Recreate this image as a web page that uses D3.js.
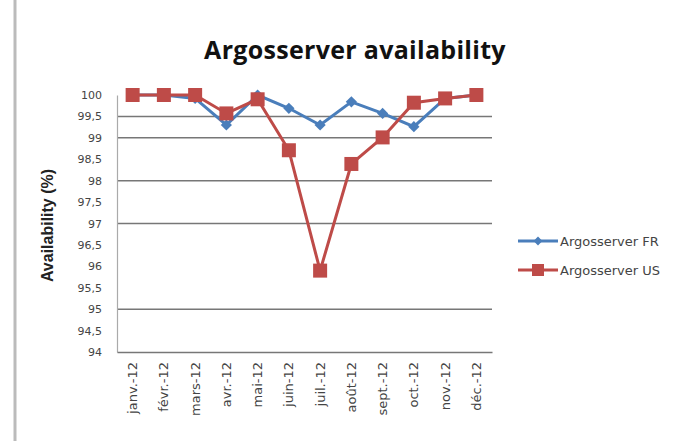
<!DOCTYPE html>
<html>
<head>
<meta charset="utf-8">
<script src="https://cdn.jsdelivr.net/npm/d3@7"></script>
<style>
  body { margin: 0; background: #fff; }
  svg { display: block; }
</style>
</head>
<body>
<div id="chart"></div>
<script>
// chart values
const months = ['janv.-12', 'févr.-12', 'mars-12', 'avr.-12', 'mai-12', 'juin-12',
  'juil.-12', 'août-12', 'sept.-12', 'oct.-12', 'nov.-12', 'déc.-12'];
const serverFR = [100, 100, 99.92, 99.3, 100, 99.69, 99.3, 99.84, 99.57, 99.26, 99.92, 100];
const serverUS = [100, 100, 100, 99.57, 99.9, 98.71, 95.9, 98.39, 99.01, 99.82, 99.92, 100];
const yTicks = [100, 99.5, 99, 98.5, 98, 97.5, 97, 96.5, 96, 95.5, 95, 94.5, 94];
const yTickLabels = ['100', '99,5', '99', '98,5', '98', '97,5', '97', '96,5', '96', '95,5', '95', '94,5', '94'];
const gridValues = [99.5, 99, 98, 97, 95];
const seriesNames = ['Argosserver FR', 'Argosserver US'];

const width = 687;
const height = 441;
const plot = { left: 117, right: 492, top: 95, bottom: 352 };
const blue = '#4a7ebb';
const red = '#be4b48';

const x = d3.scaleBand().domain(months).range([plot.left, plot.right]);
const y = d3.scaleLinear().domain([94, 100]).range([plot.bottom, plot.top]);
const cx = (m) => x(m) + x.bandwidth() / 2;

const svg = d3.select('#chart').append('svg')
  .attr('width', width)
  .attr('height', height)
  .attr('font-family', '"Liberation Sans", sans-serif');

// page edge line on the left
svg.append('line')
  .attr('x1', 15).attr('x2', 15).attr('y1', 0).attr('y2', height)
  .attr('stroke', '#bbb').attr('stroke-width', 3);

// title
svg.append('text')
  .attr('x', 355).attr('y', 59)
  .attr('text-anchor', 'middle')
  .attr('font-family', '"Open Sans", sans-serif')
  .attr('font-weight', 'bold')
  .attr('font-size', 25)
  .attr('letter-spacing', 0.3)
  .attr('fill', '#111')
  .text('Argosserver availability');

// gridlines
svg.append('g')
  .selectAll('line')
  .data(gridValues)
  .join('line')
  .attr('x1', plot.left).attr('x2', plot.right)
  .attr('y1', (d) => y(d)).attr('y2', (d) => y(d))
  .attr('stroke', '#777').attr('stroke-width', 1.5);

// y axis
const yAxis = d3.axisLeft(y)
  .tickValues(yTicks)
  .tickSize(0)
  .tickPadding(15)
  .tickFormat((d, i) => yTickLabels[i]);
svg.append('g')
  .attr('transform', `translate(${plot.left},0)`)
  .call(yAxis)
  .call((g) => g.select('.domain').attr('stroke', '#aaa').attr('stroke-width', 1.2))
  .call((g) => g.selectAll('text')
    .attr('font-size', 11)
    .attr('fill', '#444')
    .attr('font-family', '"DejaVu Sans", sans-serif'));

// x axis
const xAxis = d3.axisBottom(x).tickSize(0).tickPadding(0);
svg.append('g')
  .attr('transform', `translate(0,${plot.bottom})`)
  .call(xAxis)
  .call((g) => g.select('.domain').attr('stroke', '#777').attr('stroke-width', 1.5))
  .call((g) => g.selectAll('text')
    .attr('transform', 'rotate(-90)')
    .attr('text-anchor', 'end')
    .attr('x', -10)
    .attr('y', 0)
    .attr('dy', '0.35em')
    .attr('font-size', 13)
    .attr('fill', '#444')
    .attr('font-family', '"DejaVu Sans", sans-serif'));

// y axis title
svg.append('text')
  .attr('transform', `translate(53,${(plot.top + plot.bottom) / 2 + 2}) rotate(-90)`)
  .attr('text-anchor', 'middle')
  .attr('font-size', 16)
  .attr('font-weight', 'bold')
  .attr('fill', '#222')
  .text('Availability (%)');

const line = d3.line()
  .x((d, i) => cx(months[i]))
  .y((d) => y(d));

// FR series
svg.append('path')
  .datum(serverFR)
  .attr('fill', 'none')
  .attr('stroke', blue)
  .attr('stroke-width', 3)
  .attr('d', line);
svg.append('g')
  .selectAll('path')
  .data(serverFR)
  .join('path')
  .attr('transform', (d, i) => `translate(${cx(months[i])},${y(d)})`)
  .attr('d', d3.symbol(d3.symbolDiamond2, 80))
  .attr('fill', blue);

// US series
svg.append('path')
  .datum(serverUS)
  .attr('fill', 'none')
  .attr('stroke', red)
  .attr('stroke-width', 3)
  .attr('d', line);
svg.append('g')
  .selectAll('rect')
  .data(serverUS)
  .join('rect')
  .attr('x', (d, i) => cx(months[i]) - 7)
  .attr('y', (d) => y(d) - 7)
  .attr('width', 14)
  .attr('height', 14)
  .attr('fill', red);

// legend
const legend = svg.append('g').attr('transform', 'translate(518,241)');
const items = legend.selectAll('g')
  .data(seriesNames)
  .join('g')
  .attr('transform', (d, i) => `translate(0,${i * 29})`);
items.append('line')
  .attr('x1', 0).attr('x2', 40)
  .attr('stroke', (d, i) => (i ? red : blue))
  .attr('stroke-width', 3);
items.filter((d, i) => i === 0).append('path')
  .attr('transform', 'translate(20,0)')
  .attr('d', d3.symbol(d3.symbolDiamond2, 50))
  .attr('fill', blue);
items.filter((d, i) => i === 1).append('rect')
  .attr('x', 14).attr('y', -6).attr('width', 12).attr('height', 12)
  .attr('fill', red);
items.append('text')
  .attr('x', 42)
  .attr('dy', '0.35em')
  .attr('font-size', 13)
  .attr('fill', '#444')
  .attr('font-family', '"DejaVu Sans", sans-serif')
  .text((d) => d);
</script>
</body>
</html>
